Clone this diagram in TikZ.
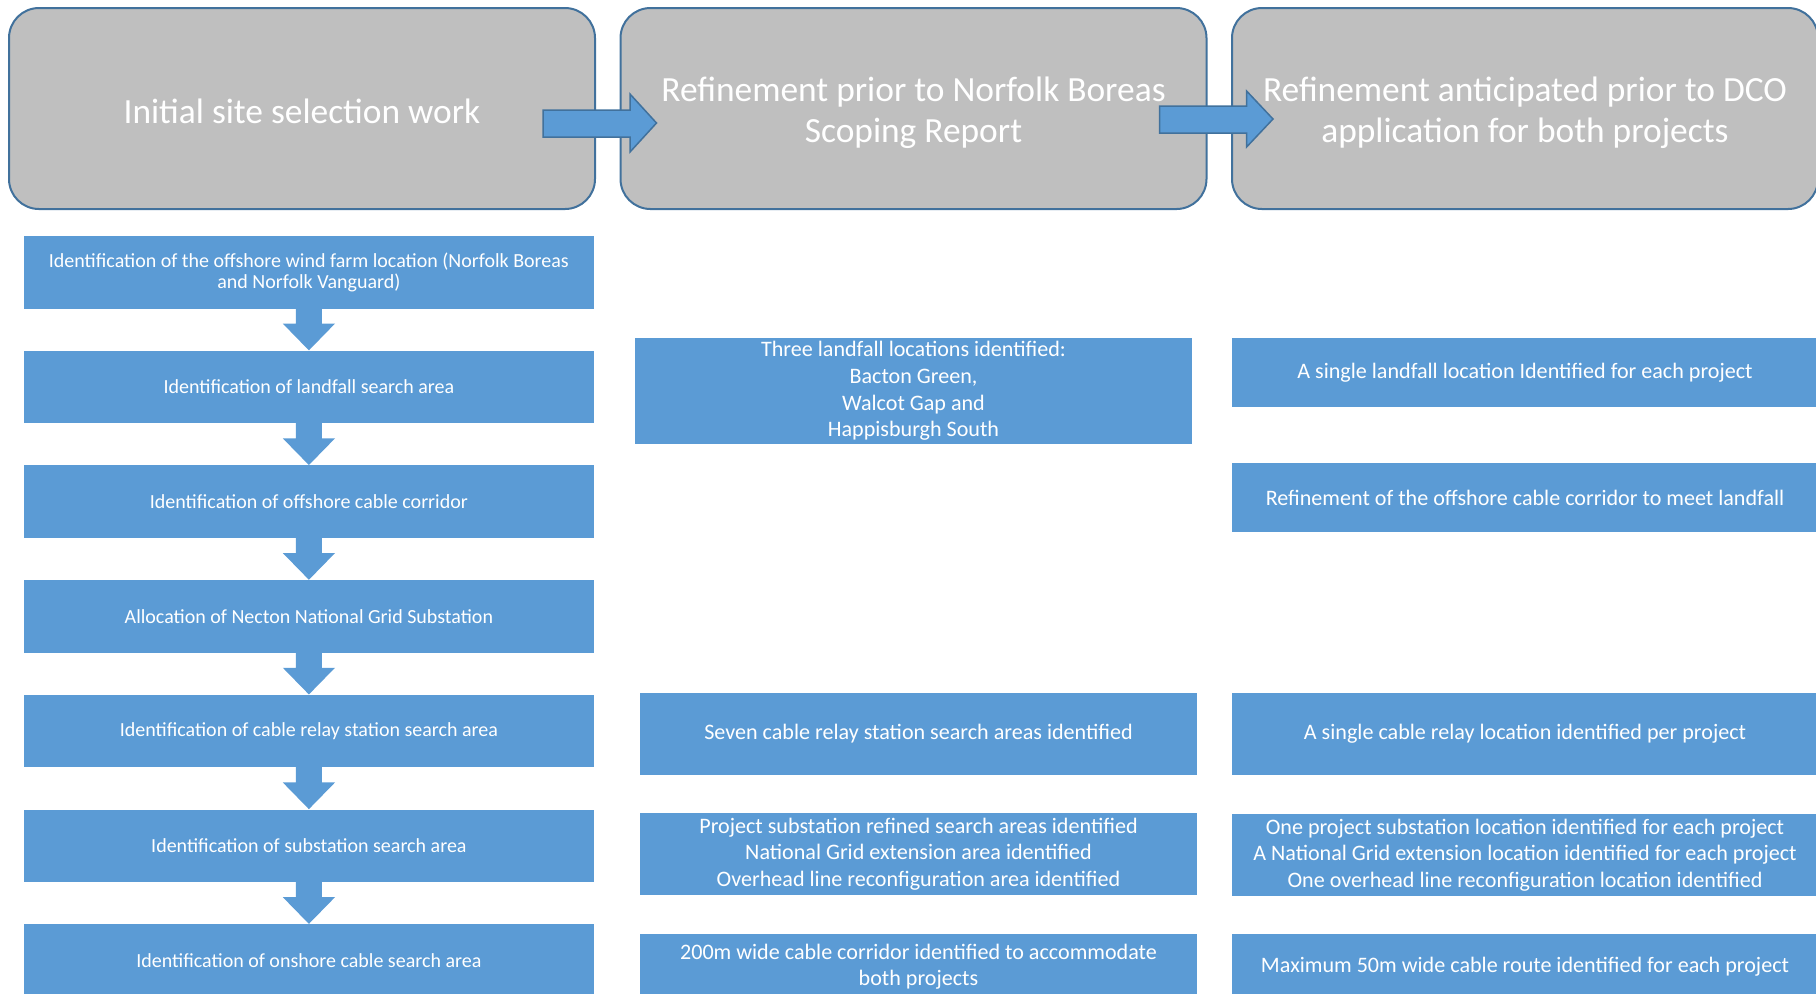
\documentclass[tikz,border=0pt]{standalone}
\usepackage{fontspec}
\setmainfont{Carlito}
\usetikzlibrary{calc}
\definecolor{hdrgray}{HTML}{BFBFBF}
\definecolor{hdrline}{HTML}{41719C}
\definecolor{boxblue}{HTML}{5B9BD5}
\begin{document}
\begin{tikzpicture}[x=0.5pt,y=-0.5pt,
  hdr/.style={draw=hdrline, line width=1pt, fill=hdrgray, rounded corners=15pt,
    minimum width=293pt, minimum height=100.5pt, inner sep=0pt},
  htext/.style={text=white, font=\fontsize{17.7}{20.4}\selectfont, align=center, inner sep=0pt},
  bx/.style={fill=boxblue, text=white, font=\fontsize{11.05}{13.3}\selectfont,
    align=center, inner sep=0pt},
  lbox/.style={bx, font=\fontsize{10}{13}\selectfont, minimum width=285.15pt, minimum height=36.25pt},
  mbox/.style={bx, minimum width=278.5pt},
  rbox/.style={bx, minimum width=293pt},
  harrow/.style={fill=boxblue, draw=hdrline, line width=0.75pt},
  varrow/.style={fill=boxblue}
]
\useasboundingbox (0,0) rectangle (1816,993);
\clip (0,0) rectangle (1816,993);

% headers
\node[hdr, label={[htext, yshift=-1.2pt]center:Initial site selection work}] (h1) at (302,108.5) {};
\node[hdr, label={[htext, yshift=-2.3pt]center:{Refinement prior to Norfolk Boreas\\Scoping Report}}] (h2) at (913.5,108.5) {};
\node[hdr, label={[htext, yshift=-2.3pt]center:{Refinement anticipated prior to DCO\\application for both projects}}] (h3) at (1525,108.5) {};

% header arrows
\filldraw[harrow] ($(h1.east)+(-53,1.5)$) -- ++(87,0) -- ++(0,-16)
  -- ($(h2.west)+(37,14.5)$) -- ($(h1.east)+(34,43.5)$) -- ++(0,-15) -- ++(-87,0) -- cycle;
\filldraw[harrow] ($(h2.east)+(-48,-2.5)$) -- ++(87.1,0) -- ++(0,-15)
  -- ($(h3.west)+(42,10.5)$) -- ($(h2.east)+(39.1,38.5)$) -- ++(0,-14) -- ++(-87.1,0) -- cycle;

% left column
\node[lbox, font=\fontsize{10}{10.5}\selectfont] (l1) at (308.9,272.25) {Identification of the offshore wind farm location (Norfolk Boreas\\and Norfolk Vanguard)};
\node[lbox] (l2) at (308.9,387) {Identification of landfall search area};
\node[lbox] (l3) at (308.9,501.7) {Identification of offshore cable corridor};
\node[lbox] (l4) at (308.9,616.4) {Allocation of Necton National Grid Substation};
\node[lbox] (l5) at (308.9,731.1) {Identification of cable relay station search area};
\node[lbox] (l6) at (308.9,845.8) {Identification of substation search area};
\node[lbox] (l7) at (308.9,960.5) {Identification of onshore cable search area};

\foreach \a/\b in {l1/l2,l2/l3,l3/l4,l4/l5,l5/l6,l6/l7}{
  \fill[varrow] ($(\a.south)+(-13,-1)$) -- ++(0,15.7) -- ++(-13.1,0) -- (\b.north)
    -- ($(\a.south)+(26.1,14.7)$) -- ++(-13.1,0) -- ++(0,-15.7) -- cycle;
}

% middle column
\node[mbox, minimum height=53pt] (m1) at (913.5,391) {Three landfall locations identified:\\Bacton Green,\\Walcot Gap and\\Happisburgh South};
\node[mbox, minimum height=41pt] (m5) at (918.5,734) {Seven cable relay station search areas identified};
\node[mbox, minimum height=41pt] (m6) at (918.5,854) {Project substation refined search areas identified\\National Grid extension area identified\\Overhead line reconfiguration area identified};
\node[mbox, minimum height=32.5pt] (m7) at (918.5,966.5) {200m wide cable corridor identified to accommodate\\both projects};

% right column
\node[rbox, minimum height=34.5pt] (r1) at (1525,372.5) {A single landfall location Identified for each project};
\node[rbox, minimum height=34.5pt] (r2) at (1525,497.5) {Refinement of the offshore cable corridor to meet landfall};
\node[rbox, minimum height=41pt] (r5) at (1525,734) {A single cable relay location identified per project};
\node[rbox, minimum height=41pt] (r6) at (1525,855) {One project substation location identified for each project\\A National Grid extension location identified for each project\\One overhead line reconfiguration location identified};
\node[rbox, minimum height=32.5pt] (r7) at (1525,966.5) {Maximum 50m wide cable route identified for each project};
\end{tikzpicture}
\end{document}
